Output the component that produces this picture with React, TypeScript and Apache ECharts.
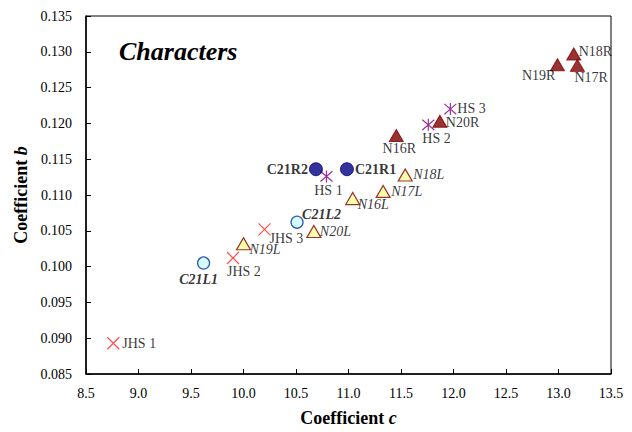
import React, { useEffect, useRef } from 'react';
import * as echarts from 'echarts';

// ---- data ----
const jhsNames = ['JHS 1', 'JHS 2', 'JHS 3'];
const jhsC = [8.76, 9.9, 10.2];
const jhsB = [0.0893, 0.1012, 0.1052];

const hsNames = ['HS 1', 'HS 2', 'HS 3'];
const hsC = [10.79, 11.76, 11.97];
const hsB = [0.1126, 0.1198, 0.122];

const c21lNames = ['C21L1', 'C21L2'];
const c21lC = [9.62, 10.51];
const c21lB = [0.1005, 0.1062];

const c21rNames = ['C21R2', 'C21R1'];
const c21rC = [10.69, 10.985];
const c21rB = [0.1136, 0.1136];

const nlNames = ['N19L', 'N20L', 'N16L', 'N17L', 'N18L'];
const nlC = [10.0, 10.67, 11.04, 11.33, 11.54];
const nlB = [0.1032, 0.1049, 0.1095, 0.1105, 0.1128];

const nrNames = ['N16R', 'N20R', 'N19R', 'N18R', 'N17R'];
const nrC = [11.455, 11.87, 12.99, 13.145, 13.18];
const nrB = [0.1183, 0.1203, 0.1282, 0.1297, 0.1281];

const xTicks = { min: 8.5, max: 13.5, interval: 0.5 };
const yTicks = { min: 0.085, max: 0.135, interval: 0.005 };

// label placement: [dx, dy, align]
const labelPlace: Record<string, [number, number, string]> = {
  'JHS 1': [9, 0, 'left'],
  'JHS 2': [-6, 13, 'left'],
  'JHS 3': [5, 9, 'left'],
  'HS 1': [2, 14, 'center'],
  'HS 2': [-6, 14, 'left'],
  'HS 3': [7, -1, 'left'],
  'C21L1': [-5, 16, 'center'],
  'C21L2': [5, -8, 'left'],
  'C21R2': [-8, 0, 'right'],
  'C21R1': [8, 0, 'left'],
  'N19L': [6, 6, 'left'],
  'N20L': [6, 0, 'left'],
  'N16L': [5, 6, 'left'],
  'N17L': [8, 0, 'left'],
  'N18L': [8, 0, 'left'],
  'N16R': [3, 13, 'center'],
  'N20R': [6, 1, 'left'],
  'N19R': [-2, 11, 'right'],
  'N18R': [5, -2, 'left'],
  'N17R': [-3, 12, 'left'],
};

const FONT = 'Liberation Serif';

function pts(names: string[], xs: number[], ys: number[], fontWeight: string, fontStyle: string) {
  return names.map((n, i) => {
    const p = labelPlace[n];
    return {
      name: n,
      value: [xs[i], ys[i]],
      label: {
        show: true,
        position: 'inside',
        formatter: n,
        align: p[2],
        verticalAlign: 'middle',
        offset: [p[0], p[1]],
        fontFamily: FONT,
        fontSize: 14,
        color: '#000',
        fontWeight,
        fontStyle,
      },
    };
  });
}

export default function App() {
  const ref = useRef<HTMLDivElement>(null);
  useEffect(() => {
    if (!ref.current) return;
    const chart = echarts.init(ref.current, undefined, { renderer: 'svg' });
    chart.setOption({
      animation: false,
      backgroundColor: '#fff',
      textStyle: { fontFamily: FONT },
      grid: {
        left: 86,
        right: 21,
        top: 16,
        bottom: 55,
        show: true,
        borderColor: '#000',
        borderWidth: 1,
      },
      graphic: [
        {
          type: 'text',
          left: 119,
          top: 38,
          style: {
            text: 'Characters',
            fontFamily: FONT,
            fontSize: 26,
            fontWeight: 'bold',
            fontStyle: 'italic',
            fill: '#000',
          },
        },
      ],
      xAxis: {
        type: 'value',
        min: xTicks.min,
        max: xTicks.max,
        interval: xTicks.interval,
        splitLine: { show: false },
        axisLine: { lineStyle: { color: '#000', width: 1.5 } },
        axisTick: { inside: true, length: 5, lineStyle: { color: '#000' } },
        axisLabel: {
          margin: 12,
          fontFamily: FONT,
          fontSize: 14,
          color: '#000',
          formatter: (v: number) => v.toFixed(1),
        },
        name: '{a|Coefficient }{b|c}',
        nameLocation: 'middle',
        nameGap: 35,
        nameTextStyle: {
          rich: {
            a: { fontFamily: FONT, fontSize: 18, fontWeight: 'bold', color: '#000' },
            b: { fontFamily: FONT, fontSize: 18, fontWeight: 'bold', fontStyle: 'italic', color: '#000' },
          },
        },
      },
      yAxis: {
        type: 'value',
        min: yTicks.min,
        max: yTicks.max,
        interval: yTicks.interval,
        splitLine: { show: false },
        axisLine: { show: true, lineStyle: { color: '#000', width: 1.5 } },
        axisTick: { show: true, inside: true, length: 5, lineStyle: { color: '#000' } },
        axisLabel: {
          margin: 14,
          fontFamily: FONT,
          fontSize: 14,
          color: '#000',
          formatter: (v: number) => v.toFixed(3),
        },
        name: '{a|Coefficient }{b|b}',
        nameLocation: 'middle',
        nameGap: 55,
        nameTextStyle: {
          rich: {
            a: { fontFamily: FONT, fontSize: 18, fontWeight: 'bold', color: '#000' },
            b: { fontFamily: FONT, fontSize: 18, fontWeight: 'bold', fontStyle: 'italic', color: '#000' },
          },
        },
      },
      series: [
        {
          type: 'scatter',
          name: 'JHS',
          symbol: 'path://M0,0L10,10M10,0L0,10',
          symbolSize: 12,
          itemStyle: { color: 'none', borderColor: '#ff2020', borderWidth: 1.2 },
          data: pts(jhsNames, jhsC, jhsB, 'normal', 'normal'),
        },
        {
          type: 'scatter',
          name: 'HS',
          symbol: 'path://M5,0L5,10M0.7,0.7L9.3,9.3M9.3,0.7L0.7,9.3',
          symbolSize: 12,
          itemStyle: { color: 'none', borderColor: '#800080', borderWidth: 1.2 },
          data: pts(hsNames, hsC, hsB, 'normal', 'normal'),
        },
        {
          type: 'scatter',
          name: 'C21L',
          symbol: 'circle',
          symbolSize: 12,
          itemStyle: { color: '#ccffff', borderColor: '#003399', borderWidth: 1.3 },
          data: pts(c21lNames, c21lC, c21lB, 'bold', 'italic'),
        },
        {
          type: 'scatter',
          name: 'C21R',
          symbol: 'circle',
          symbolSize: 13,
          itemStyle: { color: '#000080', borderColor: '#000080', borderWidth: 1 },
          data: pts(c21rNames, c21rC, c21rB, 'bold', 'normal'),
        },
        {
          type: 'scatter',
          name: 'NL',
          symbol: 'triangle',
          symbolSize: [14, 12],
          itemStyle: { color: '#ffff99', borderColor: '#800000', borderWidth: 1.2 },
          data: pts(nlNames, nlC, nlB, 'normal', 'italic'),
        },
        {
          type: 'scatter',
          name: 'NR',
          symbol: 'triangle',
          symbolSize: [14, 12],
          itemStyle: { color: '#800000', borderColor: '#800000', borderWidth: 1 },
          data: pts(nrNames, nrC, nrB, 'normal', 'normal'),
        },
      ],
    });
    return () => chart.dispose();
  }, []);
  return <div ref={ref} style={{ width: 632, height: 432, margin: -8 }} />;
}
